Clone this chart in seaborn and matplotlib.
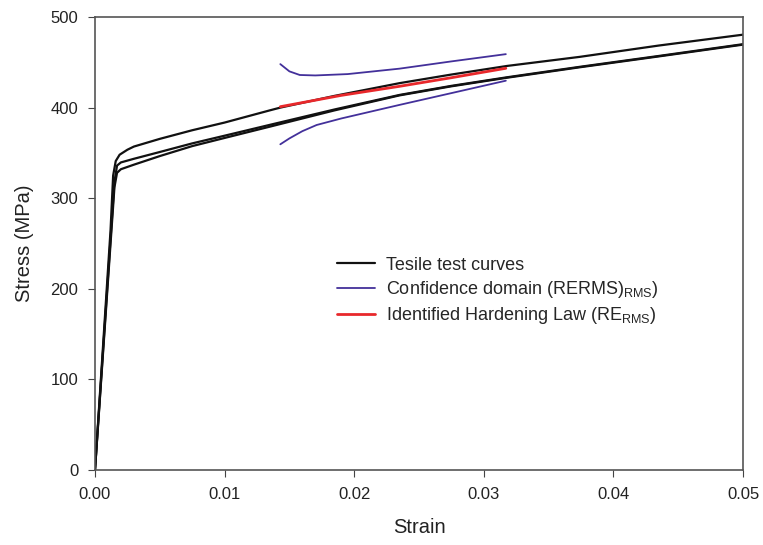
import numpy as np
import pandas as pd
import matplotlib
matplotlib.use("Agg")
import matplotlib.pyplot as plt
import seaborn as sns

# tensile test curves (strain, stress in MPa)
strain_a = [0, 0.0012, 0.0014, 0.0016, 0.0019, 0.0025, 0.003, 0.005, 0.0075, 0.01,
            0.0135, 0.0143, 0.0185, 0.0235, 0.0275, 0.0318, 0.0374, 0.0435, 0.05]
stress_a = [0, 265, 325, 341, 348, 353.5, 357, 365.5, 375, 383.5,
            397, 400, 413, 427, 436.5, 446, 456, 468.5, 480.5]

strain_b = [0, 0.0012, 0.0015, 0.0017, 0.002, 0.003, 0.005, 0.0075, 0.01,
            0.0135, 0.0185, 0.0235, 0.0275, 0.0318, 0.0374, 0.0435, 0.05]
stress_b = [0, 255, 318, 336, 339.5, 343.5, 351, 360.5, 369,
            381, 398, 414, 424, 433.5, 445, 457, 470]
stress_c = [0, 250, 312, 328, 332, 337, 346.5, 357.5, 366.5,
            379, 397, 413.5, 423.5, 433, 444.5, 456.5, 469.5]

# confidence domain bounds
conf_strain_up = [0.0143, 0.015, 0.0158, 0.017, 0.0195, 0.0235, 0.0275, 0.0317]
conf_stress_up = [448, 440, 436, 435.5, 437, 443, 451, 459]
conf_strain_lo = [0.0143, 0.015, 0.016, 0.0171, 0.019, 0.0235, 0.0275, 0.0317]
conf_stress_lo = [359.5, 366, 374, 380.8, 388, 403, 416, 429.7]

# identified hardening law
law_strain = [0.0143, 0.019, 0.0235, 0.0275, 0.0317]
law_stress = [401, 413.5, 423.5, 433, 443.4]

sns.set_style("ticks")
plt.rcParams['font.family'] = ['Liberation Sans', 'DejaVu Sans']
plt.rcParams['mathtext.fontset'] = 'custom'
plt.rcParams['mathtext.rm'] = 'Liberation Sans'

fig, ax = plt.subplots(figsize=(7.63, 5.45), dpi=100)
fig.subplots_adjust(left=0.1245, right=0.9738, top=0.9688, bottom=0.1376)

black = "#111111"
purple = "#43309a"
red = "#e8282b"

sns.lineplot(x=strain_a, y=stress_a, ax=ax, color=black, lw=1.6, sort=False,
             estimator=None, label="Tesile test curves")
sns.lineplot(x=strain_b, y=stress_b, ax=ax, color=black, lw=1.6, sort=False,
             estimator=None, label="_nolegend_")
sns.lineplot(x=strain_b, y=stress_c, ax=ax, color=black, lw=1.6, sort=False,
             estimator=None, label="_nolegend_")
sns.lineplot(x=conf_strain_up, y=conf_stress_up, ax=ax, color=purple, lw=1.3,
             sort=False, estimator=None,
             label=r"Confidence domain (RERMS)$_{\mathregular{RMS}}$)")
sns.lineplot(x=conf_strain_lo, y=conf_stress_lo, ax=ax, color=purple, lw=1.3,
             sort=False, estimator=None, label="_nolegend_")
sns.lineplot(x=law_strain, y=law_stress, ax=ax, color=red, lw=2.0, sort=False,
             estimator=None, label=r"Identified Hardening Law (RE$_{\mathregular{RMS}}$)")

ax.set_xlim(0, 0.05)
ax.set_ylim(0, 500)
ax.set_xticks([0, 0.01, 0.02, 0.03, 0.04, 0.05])
ax.set_xticklabels(["0.00", "0.01", "0.02", "0.03", "0.04", "0.05"])
ax.set_yticks([0, 100, 200, 300, 400, 500])
ax.tick_params(axis='both', labelsize=12, direction='out', length=5,
               color="#444444", labelcolor="#222222", pad=7)
for s in ax.spines.values():
    s.set_color("#555555")
    s.set_linewidth(1.2)

ax.set_xlabel("Strain", fontsize=14.5, color="#222222", labelpad=12)
ax.set_ylabel("Stress (MPa)", fontsize=14.5, color="#222222", labelpad=12)

ax.legend(loc="upper left", bbox_to_anchor=(0.349, 0.507), frameon=False,
          fontsize=13, handlelength=2.1, handletextpad=0.6,
          labelspacing=0.3)

fig.savefig("out.png", dpi=100)
